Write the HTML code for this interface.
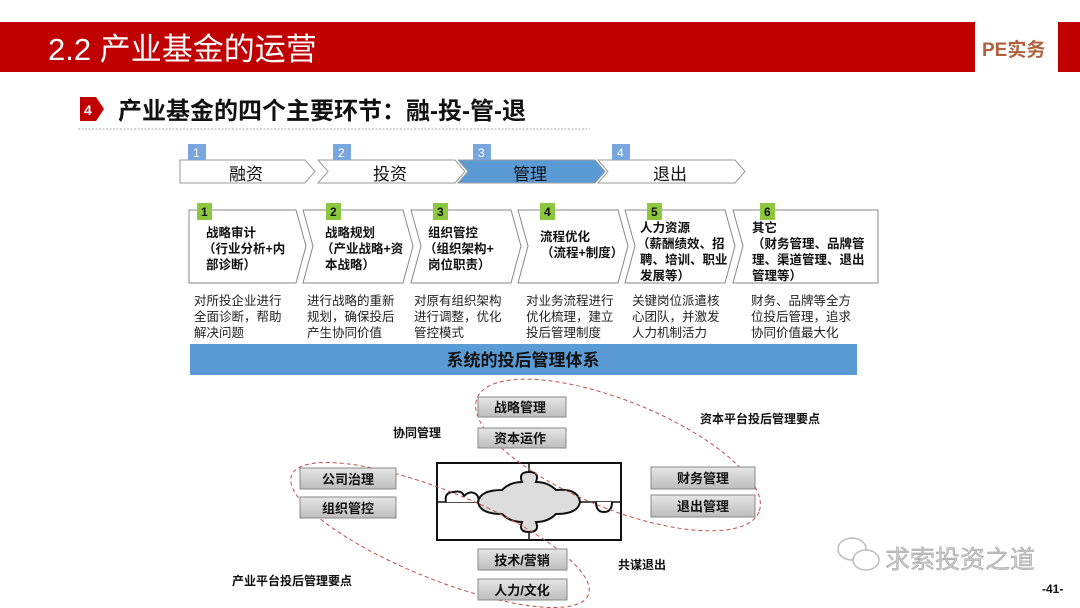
<!DOCTYPE html>
<html><head><meta charset="utf-8"><style>
body{margin:0;width:1080px;height:608px;overflow:hidden;background:#fff;font-family:"Liberation Sans","Noto Sans CJK SC",sans-serif;}
svg{display:block}
text{font-family:"Liberation Sans","Noto Sans CJK SC",sans-serif;}
</style></head><body>
<svg width="1080" height="608" viewBox="0 0 1080 608">
<defs>
<linearGradient id="btn" x1="0" y1="0" x2="0" y2="1"><stop offset="0" stop-color="#e6e6e6"/><stop offset="1" stop-color="#bdbdbd"/></linearGradient>
</defs>
<rect x="0" y="22" width="975" height="50" fill="#c00000"/>
<rect x="1058" y="22" width="22" height="50" fill="#c00000"/>
<text x="48" y="60" font-size="31" fill="#fff">2.2 产业基金的运营</text>
<text x="982" y="56" font-size="19" font-weight="bold" fill="#b0603c">PE实务</text>
<path d="M80 97 H96 L104 109 L96 121 H80 Z" fill="#c00000"/>
<text x="84" y="115" font-size="14" font-weight="bold" fill="#fff">4</text>
<text x="118" y="119" font-size="24" font-weight="bold" fill="#111">产业基金的四个主要环节：融-投-管-退</text>
<line x1="78" y1="129" x2="590" y2="129" stroke="#aaa" stroke-dasharray="2,1.5"/>
<g stroke="#999" stroke-width="1" fill="#fff">
<path d="M180 160 H305 L315 171.5 L305 183 H180 Z"/>
<path d="M318 160 H455 L465 171.5 L455 183 H318 L328 171.5 Z"/>
<path d="M458 160 H595 L605 171.5 L595 183 H458 L468 171.5 Z" fill="#5b9bd5"/>
<path d="M598 160 H735 L745 171.5 L735 183 H598 L608 171.5 Z"/>
</g>
<g fill="#7aa6de"><rect x="188" y="144" width="18" height="16"/><rect x="333" y="144" width="18" height="16"/><rect x="473" y="144" width="18" height="16"/><rect x="612" y="144" width="18" height="16"/></g>
<g font-size="12" fill="#fff"><text x="193" y="157">1</text><text x="338" y="157">2</text><text x="478" y="157">3</text><text x="617" y="157">4</text></g>
<g font-size="17" fill="#111" text-anchor="middle"><text x="246" y="180">融资</text><text x="390" y="180">投资</text><text x="530" y="180">管理</text><text x="670" y="180">退出</text></g>
<g stroke="#888" stroke-width="1" fill="#fff">
<path d="M189 210 H296 L306 246 L296 283 H189 Z"/>
<path d="M303 210 H403 L413 246 L403 283 H303 L313 246 Z"/>
<path d="M411 210 H511 L521 246 L511 283 H411 L421 246 Z"/>
<path d="M518 210 H618 L628 246 L618 283 H518 L528 246 Z"/>
<path d="M625 210 H725 L735 246 L725 283 H625 L635 246 Z"/>
<path d="M733 210 H878 V283 H733 L743 246 Z"/>
</g>
<g fill="#8dc63f"><rect x="197" y="203" width="15" height="17"/><rect x="326" y="203" width="15" height="17"/><rect x="433" y="203" width="15" height="17"/><rect x="540" y="203" width="15" height="17"/><rect x="647" y="203" width="15" height="17"/><rect x="760" y="203" width="15" height="17"/></g>
<g font-size="12" font-weight="bold" fill="#111"><text x="201" y="216">1</text><text x="330" y="216">2</text><text x="437" y="216">3</text><text x="544" y="216">4</text><text x="651" y="216">5</text><text x="764" y="216">6</text></g>
<g font-size="12.5" font-weight="bold" fill="#111">
<text x="206" y="237">战略审计</text><text x="203" y="253">（行业分析+内</text><text x="206" y="269">部诊断）</text>
<text x="325" y="237">战略规划</text><text x="321" y="253">（产业战略+资</text><text x="325" y="269">本战略）</text>
<text x="428" y="237">组织管控</text><text x="424" y="253">（组织架构+</text><text x="428" y="269">岗位职责）</text>
<text x="540" y="241">流程优化</text><text x="541" y="257">（流程+制度）</text>
<text x="640" y="232">人力资源</text><text x="637" y="248">（薪酬绩效、招</text><text x="640" y="264">聘、培训、职业</text><text x="640" y="280">发展等）</text>
<text x="752" y="232">其它</text><text x="752" y="248">（财务管理、品牌管</text><text x="752" y="264">理、渠道管理、退出</text><text x="752" y="280">管理等）</text>
</g>
<g font-size="12.5" fill="#222">
<text x="194" y="305">对所投企业进行</text><text x="194" y="321">全面诊断，帮助</text><text x="194" y="337">解决问题</text>
<text x="307" y="305">进行战略的重新</text><text x="307" y="321">规划，确保投后</text><text x="307" y="337">产生协同价值</text>
<text x="414" y="305">对原有组织架构</text><text x="414" y="321">进行调整，优化</text><text x="414" y="337">管控模式</text>
<text x="526" y="305">对业务流程进行</text><text x="526" y="321">优化梳理，建立</text><text x="526" y="337">投后管理制度</text>
<text x="632" y="305">关键岗位派遣核</text><text x="632" y="321">心团队，并激发</text><text x="632" y="337">人力机制活力</text>
<text x="751" y="305">财务、品牌等全方</text><text x="751" y="321">位投后管理，追求</text><text x="751" y="337">协同价值最大化</text>
</g>
<rect x="190" y="344" width="667" height="31" fill="#5b9bd5"/>
<text x="523" y="366" font-size="17" font-weight="bold" fill="#111" text-anchor="middle">系统的投后管理体系</text>
<rect x="437" y="463" width="184" height="77" fill="#fff" stroke="#111" stroke-width="2"/>
<line x1="529" y1="463" x2="529" y2="540" stroke="#111" stroke-width="1.5"/>
<line x1="437" y1="502" x2="621" y2="502" stroke="#111" stroke-width="1.5"/>
<path d="M446 502 Q444 492 454 492 Q462 490 464 496 Q470 490 476 494 Q480 498 478 502" fill="#fff" stroke="#111" stroke-width="2"/>
<path d="M596 502 Q596 512 604 512 Q612 512 612 502" fill="#fff" stroke="#111" stroke-width="2"/>
<path d="M522 482 Q518 472 529 472 Q540 472 536 482 Q548 482 556 490 Q578 488 580 502 Q578 514 556 514 Q548 522 536 522 Q540 532 529 532 Q518 532 522 522 Q510 522 502 514 Q480 514 478 502 Q480 490 502 490 Q510 482 522 482 Z" fill="#ddd" stroke="#111" stroke-width="2"/>
<ellipse cx="618" cy="455" rx="152" ry="54" transform="rotate(22 618 455)" fill="none" stroke="#c0504d" stroke-dasharray="4,3" stroke-width="1"/>
<ellipse cx="440" cy="535" rx="160" ry="44" transform="rotate(22 440 535)" fill="none" stroke="#c0504d" stroke-dasharray="4,3" stroke-width="1"/>
<g stroke="#888" stroke-width="1">
<rect x="478" y="397" width="88" height="20" fill="url(#btn)"/>
<rect x="478" y="428" width="88" height="20" fill="url(#btn)"/>
<rect x="300" y="468" width="96" height="21" fill="url(#btn)"/>
<rect x="300" y="497" width="96" height="21" fill="url(#btn)"/>
<rect x="651" y="467" width="104" height="22" fill="url(#btn)"/>
<rect x="651" y="495" width="104" height="22" fill="url(#btn)"/>
<rect x="478" y="549" width="89" height="21" fill="url(#btn)"/>
<rect x="478" y="579" width="89" height="21" fill="url(#btn)"/>
</g>
<g font-size="13" font-weight="bold" fill="#111" text-anchor="middle">
<text x="520" y="412">战略管理</text><text x="520" y="443">资本运作</text>
<text x="348" y="484">公司治理</text><text x="348" y="513">组织管控</text>
<text x="703" y="483">财务管理</text><text x="703" y="511">退出管理</text>
<text x="522" y="565">技术/营销</text><text x="522" y="595">人力/文化</text>
</g>
<g font-size="12" font-weight="bold" fill="#111">
<text x="393" y="437">协同管理</text>
<text x="700" y="423">资本平台投后管理要点</text>
<text x="618" y="569">共谋退出</text>
<text x="232" y="585">产业平台投后管理要点</text>
</g>
<g fill="none" stroke="#bbb" stroke-width="1.5">
<ellipse cx="852" cy="549" rx="14" ry="11"/><ellipse cx="866" cy="560" rx="13" ry="10" fill="#fff"/>
</g>
<text x="885" y="568" font-size="25" fill="#c8c8c8" stroke="#999" stroke-width="0.4">求索投资之道</text>
<text x="1042" y="593" font-size="12" font-weight="bold" fill="#111">-41-</text>
</svg>
</body></html>
